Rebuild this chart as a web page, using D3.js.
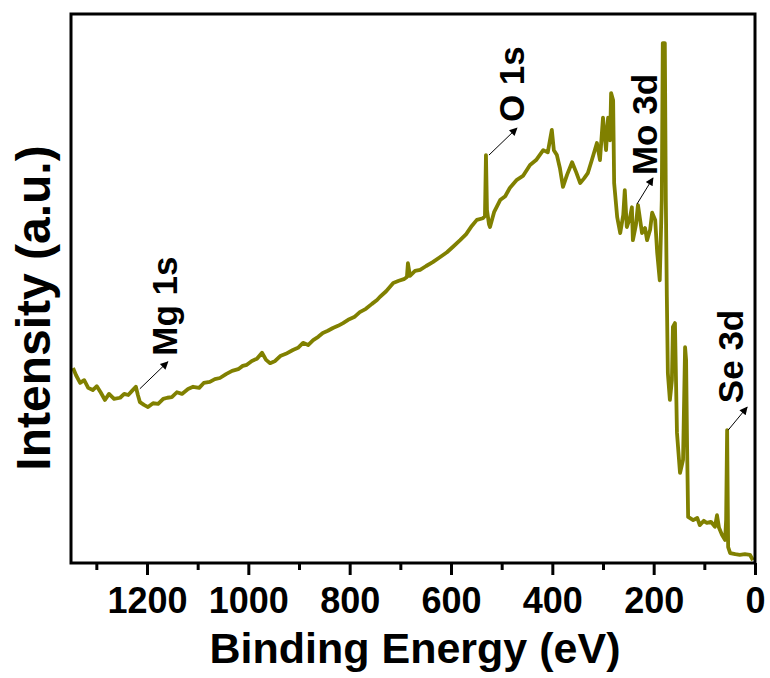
<!DOCTYPE html>
<html>
<head>
<meta charset="utf-8">
<script src="https://cdn.jsdelivr.net/npm/d3@7"></script>
<style>
  body { margin: 0; background: #fff; }
  svg text { font-family: "Liberation Sans", Arial, sans-serif; font-weight: bold; fill: #000; }
</style>
</head>
<body>
<svg id="chart" width="770" height="678"></svg>
<script>
// binding energy (eV) and intensity (a.u., 0-100)
let energy = [
  1346, 1340, 1332, 1324, 1316, 1307, 1299, 1291, 1283, 1275, 1265, 1253, 1245, 1237, 1230, 1222,
  1218, 1214, 1206, 1198, 1188, 1178, 1168, 1160, 1151, 1141, 1131, 1119, 1109, 1097, 1088, 1076,
  1066, 1056, 1044, 1032, 1020, 1011, 1003, 993, 983, 973, 965, 957, 947, 937, 926, 912,
  902, 892, 882, 872, 862, 853, 843, 833, 823, 813, 803, 791, 780, 768, 756, 746,
  740, 728, 714, 703, 693, 687, 685, 681, 671, 661, 649, 636, 622, 608, 596, 582,
  570, 559, 549, 537, 533, 531, 529, 525, 523, 515, 503, 493, 484, 470, 458, 444,
  432, 418, 409, 401, 397, 391, 385, 379, 371, 361, 353, 345, 337, 330, 322, 312,
  306, 300, 294, 290, 286, 284, 280, 278, 272, 266, 260, 257, 253, 247, 243, 241,
  235, 231, 223, 217, 213, 207, 203, 197, 193, 188, 184, 182, 178, 176, 174, 172,
  168, 164, 162, 158, 154, 148, 142, 138, 136, 134, 132, 122, 114, 109, 101, 95,
  87, 79, 75, 71, 65, 59, 57, 55, 53, 49, 39, 30, 20, 10, 4
];
let intensity = [
  35.5, 34.2, 32.8, 33.3, 31.9, 31.5, 32.2, 31.0, 29.7, 30.8, 29.9, 30.1, 30.8, 30.6, 31.3, 32.1,
  30.6, 29.3, 28.8, 28.4, 29.1, 29.0, 29.9, 30.1, 30.2, 31.1, 30.8, 31.7, 32.1, 31.9, 32.8, 33.0,
  33.5, 33.7, 34.4, 35.0, 35.3, 35.9, 36.1, 36.8, 37.2, 38.3, 37.0, 36.4, 36.8, 37.7, 38.1, 38.8,
  39.2, 40.1, 39.7, 40.6, 41.2, 41.9, 42.3, 42.8, 43.2, 43.7, 44.3, 44.8, 45.7, 46.3, 47.2, 47.9,
  48.5, 49.5, 51.0, 51.4, 51.7, 52.1, 54.6, 52.3, 53.2, 53.4, 54.1, 54.8, 55.7, 56.6, 57.6, 58.8,
  59.9, 61.4, 62.5, 62.8, 63.2, 74.3, 64.3, 61.7, 61.2, 63.9, 66.1, 66.8, 68.3, 69.8, 70.5, 72.5,
  73.4, 75.2, 74.8, 78.9, 75.2, 74.3, 71.9, 68.5, 70.7, 73.0, 71.2, 69.2, 70.1, 71.0, 73.4, 76.5,
  73.4, 81.1, 75.2, 81.1, 77.0, 85.6, 84.3, 69.2, 63.0, 60.1, 63.4, 67.9, 61.2, 62.8, 64.8, 58.8,
  61.6, 65.2, 60.1, 61.0, 58.8, 60.7, 63.8, 62.5, 56.5, 51.5, 66.1, 94.7, 94.7, 66.1, 48.5, 34.6,
  29.7, 33.3, 43.0, 43.7, 23.7, 16.4, 18.8, 39.3, 37.0, 21.1, 8.4, 7.8, 8.2, 6.9, 7.7, 7.3,
  7.5, 6.6, 8.7, 6.4, 5.1, 4.2, 7.8, 24.2, 2.9, 1.8, 1.6, 1.5, 1.6, 1.5, 0.5
];

let xTicks = [1200, 1000, 800, 600, 400, 200, 0];
let xMinorTicks = [1300, 1100, 900, 700, 500, 300, 100];

// peak annotations: label, energy and intensity of the peak it points at
let peakLabels = ["Mg 1s", "O 1s", "Mo 3d", "Se 3d"];
let peakEnergy = [1222, 531, 231, 55];
let peakIntensity = [32.1, 74.3, 65.2, 24.2];

// layout for each annotation: arrow start shift, arrow vector, text shift from arrow tip
let annoLayout = [
  {sx: 4, sy: 2, dx: 28, dy: -27, tx: 9, ty: -6},
  {sx: 3, sy: 0, dx: 28, dy: -27, tx: 7, ty: -6},
  {sx: -1, sy: -1, dx: 16, dy: -26, tx: 4, ty: -3},
  {sx: 1, sy: 0, dx: 19, dy: -23, tx: -4, ty: -4}
];

let plotLeft = 71, plotRight = 755, plotTop = 14, plotBottom = 563;
let lineColor = "#808000";

let svg = d3.select("#chart");

let x = d3.scaleLinear().domain([1350, 0]).range([plotLeft, plotRight]);
let y = d3.scaleLinear().domain([0, 100]).range([plotBottom, plotTop]);

let defs = svg.append("defs");
defs.append("clipPath").attr("id", "plotclip")
    .append("rect")
    .attr("x", plotLeft).attr("y", plotTop)
    .attr("width", plotRight - plotLeft).attr("height", plotBottom - plotTop);

defs.append("marker")
    .attr("id", "arrowhead")
    .attr("viewBox", "0 0 10 10")
    .attr("refX", 9).attr("refY", 5)
    .attr("markerWidth", 11).attr("markerHeight", 8)
    .attr("markerUnits", "userSpaceOnUse")
    .attr("orient", "auto")
    .append("path")
    .attr("d", "M0,0 L10,5 L0,10 Z")
    .attr("fill", "#000");

let points = energy.map((e, i) => [e, intensity[i]]);

let line = d3.line()
    .x(d => x(d[0]))
    .y(d => y(d[1]));

svg.append("path")
    .datum(points)
    .attr("clip-path", "url(#plotclip)")
    .attr("d", line)
    .attr("fill", "none")
    .attr("stroke", lineColor)
    .attr("stroke-width", 3.8)
    .attr("stroke-linejoin", "round");

// bottom axis, major ticks with labels
let xAxis = d3.axisBottom(x).tickValues(xTicks).tickSize(12).tickPadding(12).tickFormat(d3.format("d"));
let gx = svg.append("g")
    .attr("transform", "translate(0," + plotBottom + ")")
    .call(xAxis)
    .call(g => g.select(".domain").remove());
gx.attr("font-family", null).attr("font-size", null);
gx.selectAll(".tick line").attr("stroke", "#000").attr("stroke-width", 3);
gx.selectAll(".tick text").style("font-size", "36px");

// minor ticks
let xMinor = d3.axisBottom(x).tickValues(xMinorTicks).tickSize(7).tickFormat("");
let gm = svg.append("g")
    .attr("transform", "translate(0," + plotBottom + ")")
    .call(xMinor)
    .call(g => g.select(".domain").remove());
gm.selectAll(".tick line").attr("stroke", "#000").attr("stroke-width", 3);

// frame
svg.append("rect")
    .attr("x", plotLeft).attr("y", plotTop)
    .attr("width", plotRight - plotLeft).attr("height", plotBottom - plotTop)
    .attr("fill", "none")
    .attr("stroke", "#000")
    .attr("stroke-width", 3);

// axis titles
svg.append("text")
    .attr("x", (207 + 623) / 2)
    .attr("y", 663)
    .attr("text-anchor", "middle")
    .style("font-size", "43px")
    .text("Binding Energy (eV)");

svg.append("text")
    .attr("transform", "translate(50,308) rotate(-90)")
    .attr("text-anchor", "middle")
    .style("font-size", "48px")
    .text("Intensity (a.u.)");

// peak annotations
peakLabels.forEach((label, i) => {
    let lay = annoLayout[i];
    let x0 = x(peakEnergy[i]) + lay.sx;
    let y0 = y(peakIntensity[i]) + lay.sy;
    let x1 = x0 + lay.dx;
    let y1 = y0 + lay.dy;
    svg.append("line")
        .attr("x1", x0).attr("y1", y0)
        .attr("x2", x1).attr("y2", y1)
        .attr("stroke", "#000")
        .attr("stroke-width", 1)
        .attr("marker-end", "url(#arrowhead)");
    svg.append("text")
        .attr("transform", "translate(" + (x1 + lay.tx) + "," + (y1 + lay.ty) + ") rotate(-90)")
        .attr("text-anchor", "start")
        .style("font-size", "35px")
        .text(label);
});
</script>
</body>
</html>
